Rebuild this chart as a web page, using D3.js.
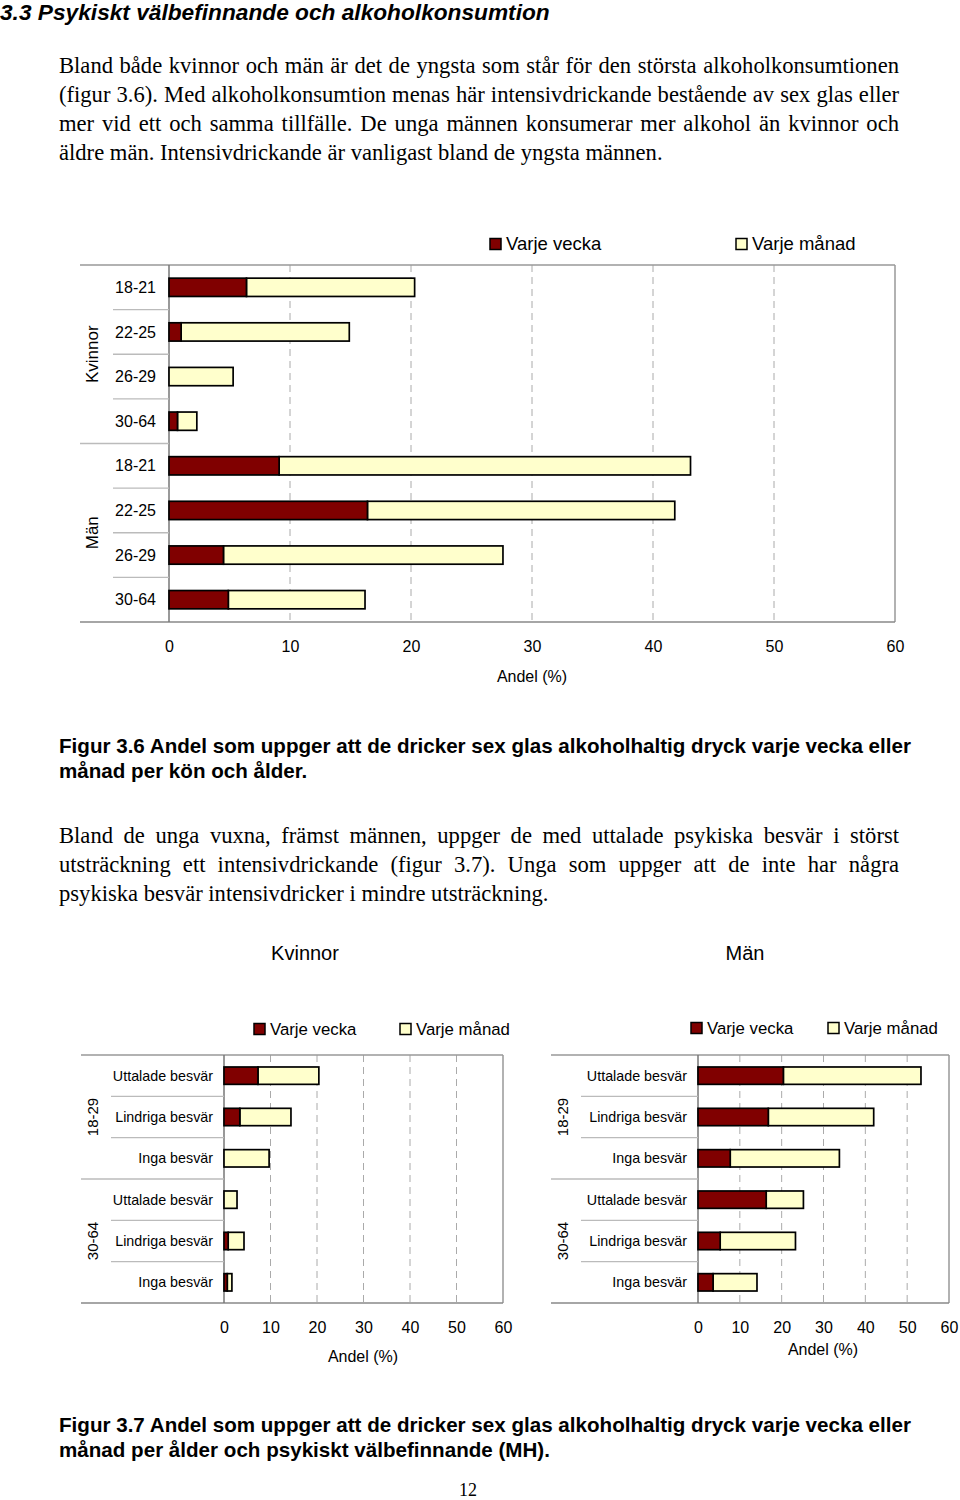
<!DOCTYPE html>
<html>
<head>
<meta charset="utf-8" />
<title>Alkoholkonsumtion</title>
<script src="https://cdnjs.cloudflare.com/ajax/libs/d3/7.8.5/d3.min.js"></script>
<style>
  body { margin: 0; padding: 0; background: #fff; }
  #page { position: relative; width: 960px; height: 1500px; }
  svg { position: absolute; left: 0; top: 0; }
  .para { position: absolute; left: 59px; width: 840px; font-family: "Liberation Serif", "Times New Roman", serif;
          font-size: 22.6px; line-height: 29px; color: #000; }
  .para div { white-space: nowrap; }
  .para div.j { text-align: justify; text-align-last: justify; }
</style>
</head>
<body>
<div id="page">
  <svg id="chart" width="960" height="1500"></svg>
  <div class="para" id="p1" style="top:51px"></div>
  <div class="para" id="p2" style="top:821px"></div>
</div>
<script>
// figur 3.6 - kön och ålder
var ages36 = ["18-21", "22-25", "26-29", "30-64"];
var groups36 = ["Kvinnor", "Män"];
var vecka36 = [6.4, 1.0, 0, 0.7, 9.1, 16.4, 4.5, 4.9];
var manad36 = [13.9, 13.9, 5.3, 1.6, 34.0, 25.4, 23.1, 11.3];

// figur 3.7 - ålder och psykiskt välbefinnande
var mh37 = ["Uttalade besvär", "Lindriga besvär", "Inga besvär"];
var ages37 = ["18-29", "30-64"];
var kvVecka37 = [7.3, 3.4, 0, 0, 0.9, 0.7];
var kvManad37 = [13.1, 11.0, 9.7, 2.8, 3.4, 1.0];
var manVecka37 = [20.4, 16.8, 7.7, 16.3, 5.3, 3.6];
var manManad37 = [32.9, 25.2, 26.1, 8.9, 18.0, 10.5];

var xTicks = [0, 10, 20, 30, 40, 50, 60];
var seriesNames = ["Varje vecka", "Varje månad"];
var seriesColors = ["#800000", "#FFFFCC"];

var para1 = [
  "Bland både kvinnor och män är det de yngsta som står för den största alkoholkonsumtionen",
  "(figur 3.6). Med alkoholkonsumtion menas här intensivdrickande bestående av sex glas eller",
  "mer vid ett och samma tillfälle. De unga männen konsumerar mer alkohol än kvinnor och",
  "äldre män. Intensivdrickande är vanligast bland de yngsta männen."
];
var para2 = [
  "Bland de unga vuxna, främst männen, uppger de med uttalade psykiska besvär i störst",
  "utsträckning ett intensivdrickande (figur 3.7). Unga som uppger att de inte har några",
  "psykiska besvär intensivdricker i mindre utsträckning."
];

var sans = "'Liberation Sans', Arial, sans-serif";
var svg = d3.select("#chart");

function fillPara(id, lines) {
  var p = d3.select(id);
  lines.forEach(function(l, i) {
    p.append("div").attr("class", i < lines.length - 1 ? "j" : null).text(l);
  });
}
fillPara("#p1", para1);
fillPara("#p2", para2);

// heading
svg.append("text").attr("x", 0).attr("y", 12).attr("dy", "0.35em")
  .style("font-family", sans).style("font-size", "22.7px").style("font-weight", "bold").style("font-style", "italic")
  .text("3.3 Psykiskt välbefinnande och alkoholkonsumtion");

function caption(lines, y) {
  lines.forEach(function(l, i) {
    svg.append("text").attr("x", 59).attr("y", y + i * 25).attr("dy", "0.35em")
      .style("font-family", sans).style("font-size", "20.6px").style("font-weight", "bold")
      .text(l);
  });
}

function legend(o) {
  var lg = svg.append("g");
  seriesNames.forEach(function(n, i) {
    lg.append("rect").attr("x", o.xs[i]).attr("y", o.y - o.sq / 2).attr("width", o.sq).attr("height", o.sq)
      .attr("fill", seriesColors[i]).attr("stroke", "#000").attr("stroke-width", 1.5);
    lg.append("text").attr("x", o.xs[i] + o.sq + 5).attr("y", o.y).attr("dy", "0.35em")
      .style("font-family", sans).style("font-size", o.fs + "px").text(n);
  });
}

function stackedChart(o) {
  var n = o.labels.length;
  var x = d3.scaleLinear().domain([0, 60]).range([o.x0, o.x1]);
  var y = d3.scaleBand().domain(d3.range(n)).range([o.y0, o.y1]).paddingInner(o.pad).paddingOuter(o.pad / 2);
  var g = svg.append("g");

  // gridlines
  g.selectAll("line.grid").data(xTicks.slice(1, -1)).join("line").attr("class", "grid")
    .attr("x1", d => x(d)).attr("x2", d => x(d)).attr("y1", o.y0).attr("y2", o.y1)
    .attr("stroke", "#aaa").attr("stroke-width", 1).attr("stroke-dasharray", "7,5");

  // frame
  g.append("line").attr("x1", o.lineLeft).attr("x2", o.x1).attr("y1", o.y0).attr("y2", o.y0).attr("stroke", "#999").attr("stroke-width", 1.5);
  g.append("line").attr("x1", o.x1).attr("x2", o.x1).attr("y1", o.y0).attr("y2", o.y1).attr("stroke", "#999").attr("stroke-width", 1.5);
  g.append("line").attr("x1", o.lineLeft).attr("x2", o.x1).attr("y1", o.y1).attr("y2", o.y1).attr("stroke", "#888").attr("stroke-width", 1.5);
  g.append("line").attr("x1", o.x0).attr("x2", o.x0).attr("y1", o.y0).attr("y2", o.y1).attr("stroke", "#777").attr("stroke-width", 1.5);

  // category separators
  var per = n / o.groups.length;
  d3.range(1, n).forEach(function(i) {
    var yy = o.y0 + (o.y1 - o.y0) * i / n;
    g.append("line").attr("x1", i % per === 0 ? o.lineLeft : o.sepLeft).attr("x2", o.x0)
      .attr("y1", yy).attr("y2", yy).attr("stroke", "#bbb").attr("stroke-width", 1.3);
  });

  // bars
  var rows = d3.range(n).map(i => ({ i: i, v: o.vecka[i], m: o.manad[i] }));
  g.selectAll("rect.m").data(rows).join("rect").attr("class", "m")
    .attr("x", d => x(d.v)).attr("width", d => x(d.v + d.m) - x(d.v))
    .attr("y", d => y(d.i)).attr("height", y.bandwidth())
    .attr("fill", seriesColors[1]).attr("stroke", "#000").attr("stroke-width", 1.7);
  g.selectAll("rect.v").data(rows.filter(d => d.v > 0)).join("rect").attr("class", "v")
    .attr("x", x(0)).attr("width", d => x(d.v) - x(0))
    .attr("y", d => y(d.i)).attr("height", y.bandwidth())
    .attr("fill", seriesColors[0]).attr("stroke", "#000").attr("stroke-width", 1.7);

  // category labels
  g.selectAll("text.cat").data(o.labels).join("text").attr("class", "cat")
    .attr("x", o.labelX).attr("y", (d, i) => y(i) + y.bandwidth() / 2).attr("dy", "0.35em")
    .attr("text-anchor", "end").style("font-family", sans).style("font-size", o.catFs + "px").text(d => d);

  // group labels
  o.groups.forEach(function(gn, k) {
    var cy = o.y0 + (o.y1 - o.y0) * (k + 0.5) / o.groups.length;
    g.append("text").attr("transform", "translate(" + o.groupX + "," + cy + ") rotate(-90)")
      .attr("dy", "0.35em").attr("text-anchor", "middle")
      .style("font-family", sans).style("font-size", o.groupFs + "px").text(gn);
  });

  // x axis
  var ax = g.append("g").attr("transform", "translate(0," + o.y1 + ")")
    .call(d3.axisBottom(x).tickValues(xTicks).tickSize(0).tickPadding(o.tickPad));
  ax.select(".domain").remove();
  ax.selectAll("text").style("font-family", sans).style("font-size", o.tickFs + "px").attr("fill", "#000");

  g.append("text").attr("x", o.titleX).attr("y", o.titleY).attr("dy", "0.35em").attr("text-anchor", "middle")
    .style("font-family", sans).style("font-size", o.tickFs + "px").text("Andel (%)");
}

// figur 3.6
legend({ xs: [490, 736], y: 244, sq: 11, fs: 18.5 });
var labels36 = [];
groups36.forEach(function() { ages36.forEach(function(a) { labels36.push(a); }); });
stackedChart({
  labels: labels36, groups: groups36, vecka: vecka36, manad: manad36,
  x0: 169, x1: 895, y0: 265, y1: 622, pad: 0.59,
  lineLeft: 80, sepLeft: 113, labelX: 156, groupX: 92,
  catFs: 16, groupFs: 17, tickFs: 16, tickPad: 19, titleX: 532, titleY: 676
});
caption(["Figur 3.6 Andel som uppger att de dricker sex glas alkoholhaltig dryck varje vecka eller",
         "månad per kön och ålder."], 746);

// figur 3.7
svg.append("text").attr("x", 305).attr("y", 953).attr("dy", "0.35em").attr("text-anchor", "middle")
  .style("font-family", sans).style("font-size", "20px").text("Kvinnor");
svg.append("text").attr("x", 745).attr("y", 953).attr("dy", "0.35em").attr("text-anchor", "middle")
  .style("font-family", sans).style("font-size", "20px").text("Män");

var labels37 = [];
ages37.forEach(function() { mh37.forEach(function(m) { labels37.push(m); }); });

legend({ xs: [254, 400], y: 1029, sq: 11, fs: 16.8 });
stackedChart({
  labels: labels37, groups: ages37, vecka: kvVecka37, manad: kvManad37,
  x0: 224, x1: 503, y0: 1055, y1: 1303, pad: 0.58,
  lineLeft: 81, sepLeft: 111, labelX: 213, groupX: 93,
  catFs: 14.3, groupFs: 15, tickFs: 16, tickPad: 19, titleX: 363, titleY: 1356
});

legend({ xs: [691, 828], y: 1028, sq: 11, fs: 16.8 });
stackedChart({
  labels: labels37, groups: ages37, vecka: manVecka37, manad: manManad37,
  x0: 698, x1: 949, y0: 1055, y1: 1303, pad: 0.58,
  lineLeft: 551, sepLeft: 581, labelX: 687, groupX: 563,
  catFs: 14.3, groupFs: 15, tickFs: 16, tickPad: 19, titleX: 823, titleY: 1349
});

caption(["Figur 3.7 Andel som uppger att de dricker sex glas alkoholhaltig dryck varje vecka eller",
         "månad per ålder och psykiskt välbefinnande (MH)."], 1425);

svg.append("text").attr("x", 468).attr("y", 1490).attr("dy", "0.35em").attr("text-anchor", "middle")
  .style("font-family", "'Liberation Serif', serif").style("font-size", "18px").text("12");
</script>
</body>
</html>
